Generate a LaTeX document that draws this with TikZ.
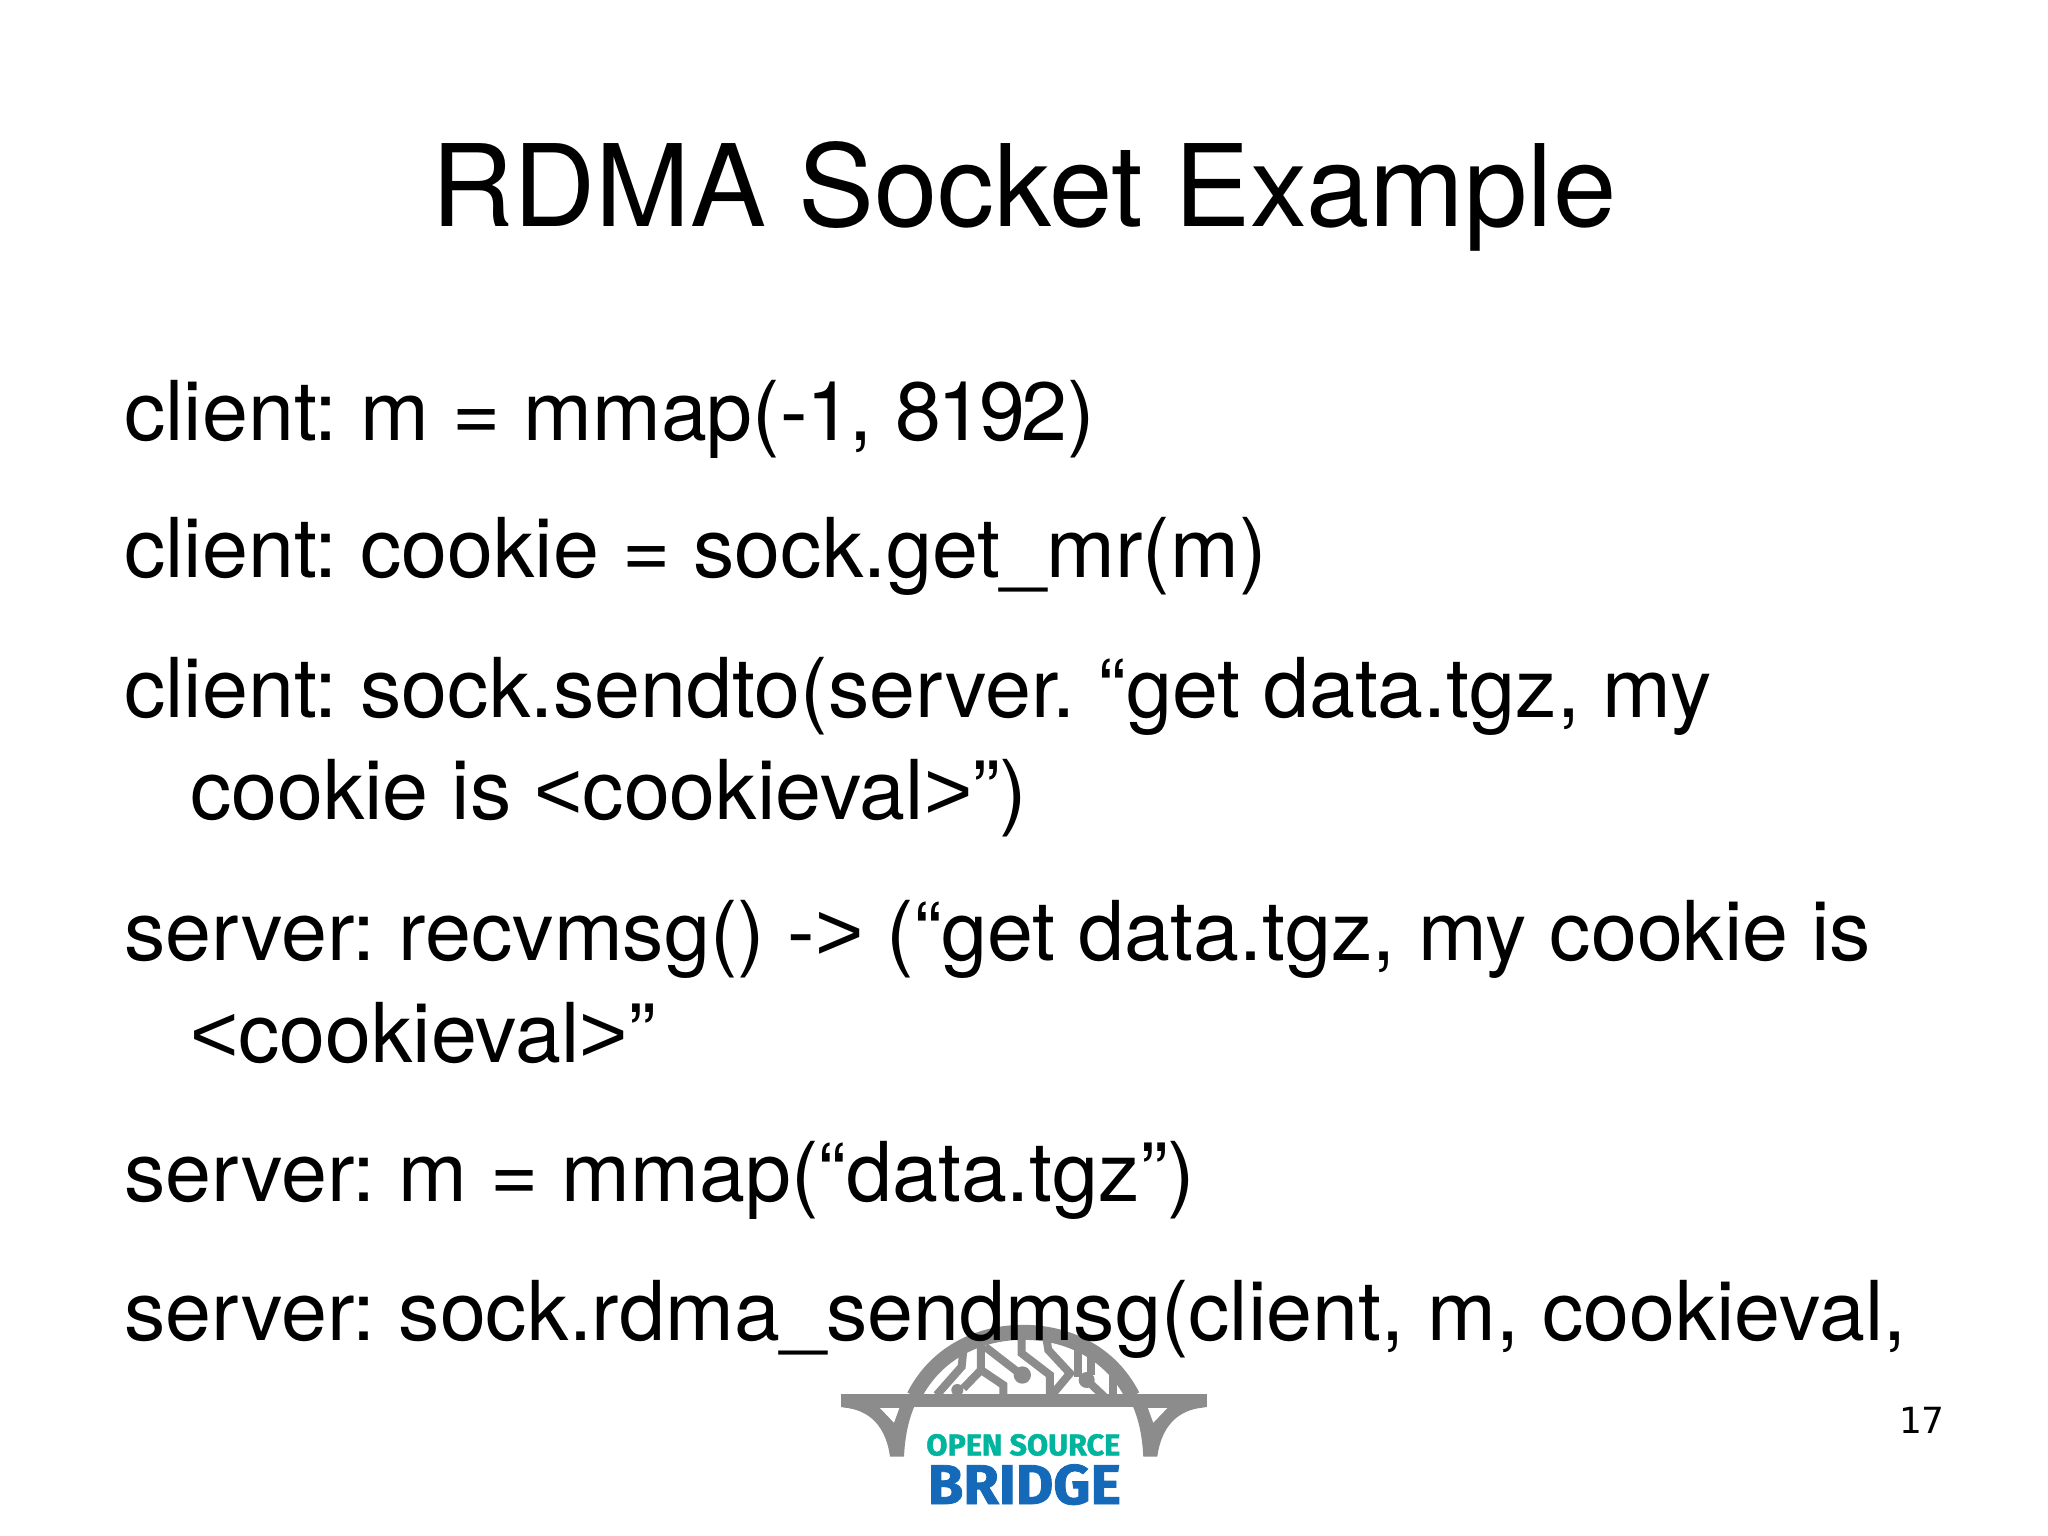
\documentclass[tikz,border=0pt]{standalone}
\usepackage{fontspec}
\setmainfont{TeX Gyre Heros}
\newfontfamily\numfont{DejaVu Sans}
\newfontfamily\logofont[FakeBold=1.5]{Fira Sans}
\newfontfamily\symfont{Liberation Sans}
\frenchspacing
\newcommand{\lts}{{\symfont <}}
\newcommand{\gts}{{\symfont >}}
\newcommand{\dk}{\kern-4pt{}}
\definecolor{logogrey}{RGB}{140,140,140}
\definecolor{logoteal}{RGB}{0,180,158}
\definecolor{logoblue}{RGB}{20,105,185}
\tikzset{
  bodyline/.style={anchor=base west,inner sep=0pt,font=\fontsize{82.6}{82.6}\selectfont,text=black},
  titleline/.style={anchor=base,inner sep=0pt,font=\fontsize{113.8}{113.8}\selectfont,text=black},
  trace/.style={draw=logogrey,line width=8pt},
  logotext/.style={inner sep=0pt,anchor=base,font=\logofont\bfseries}
}
\newcommand{\logoside}{%
  \fill[logogrey] (62,292) .. controls (130,295) and (195,330) .. (210,440) -- (252,440)
     .. controls (255,380) and (265,330) .. (285,285) -- cycle;
  \fill[white] (180,294) -- (238,294) -- (222,338) -- cycle;
}
\begin{document}
\begin{tikzpicture}[x=1pt,y=-1pt]
\useasboundingbox[fill=white] (0,0) rectangle (2048,1535);
% logo (behind the text)
\begin{scope}[shift={(820,1310)},x=0.3333pt,y=-0.3333pt]
  \logoside
  \begin{scope}[shift={(1222,0)},xscale=-1]\logoside\end{scope}
  \fill[logogrey] (62,253) rectangle (1160,292);
  \draw[logogrey,line width=15pt] (282,258) .. controls (350,125) and (480,67) .. (610,67)
      .. controls (740,67) and (870,125) .. (938,258);
  \draw[trace] (430,120) -- (425,170) -- (350,255);
  \draw[trace] (483,100) -- (483,180) -- (430,235);
  \fill[logogrey] (412,240) circle (18);
  \draw[trace] (483,180) -- (550,225) -- (550,255);
  \draw[trace] (495,110) -- (605,195);
  \fill[logogrey] (607,195) circle (26);
  \draw[trace] (605,85) -- (605,130) -- (690,195) -- (690,255);
  \draw[trace] (680,90) -- (685,120) -- (750,190) -- (700,250);
  \draw[trace] (775,105) -- (775,200);
  \draw[trace] (800,210) -- (855,262);
  \fill[logogrey] (800,210) circle (24);
  \draw[trace] (812,140) -- (812,195);
  \draw[trace] (880,190) -- (880,255);
  \node[logotext,text=logoteal,font=\logofont\bfseries\fontsize{30}{30}\selectfont,xscale=1.02] (open) at (610,436) {OPEN SOURCE};
  \node[logotext,text=logoblue,font=\logofont\bfseries\fontsize{56}{56}\selectfont,xscale=1.03] (bridge) at (613,582) {BRIDGE};
\end{scope}
\node[titleline] (title) at (1024,226) {RDMA Socket Example};
\node[bodyline] (l1) at (124,440) {client: m = mmap(-\kern-1.5pt 1\kern-2.5pt, 8\dk 1\dk 9\dk 2)};
\node[bodyline] (l2) at (124,577) {client: cookie = sock.get\_mr(m)};
\node[bodyline] (l3) at (124,717) {client: sock.sendto(server. “get data.tgz, my};
\node[bodyline] (l4) at (190,819) {cookie is \lts cookieval\gts”)};
\node[bodyline] (l5) at (124,960) {server: recvmsg() -\gts{} (“get data.tgz, my cookie is};
\node[bodyline] (l6) at (190,1062) {\lts cookieval\gts”};
\node[bodyline] (l7) at (124,1201) {server: m = mmap(“data.tgz”)};
\node[bodyline] (l8) at (124,1340) {server: sock.rdma\_sendmsg(client, m, cookieval,};
\node[anchor=base east,inner sep=0pt,font=\numfont\fontsize{36}{36}\selectfont] (page) at (1945,1433) {17};
\end{tikzpicture}
\end{document}
